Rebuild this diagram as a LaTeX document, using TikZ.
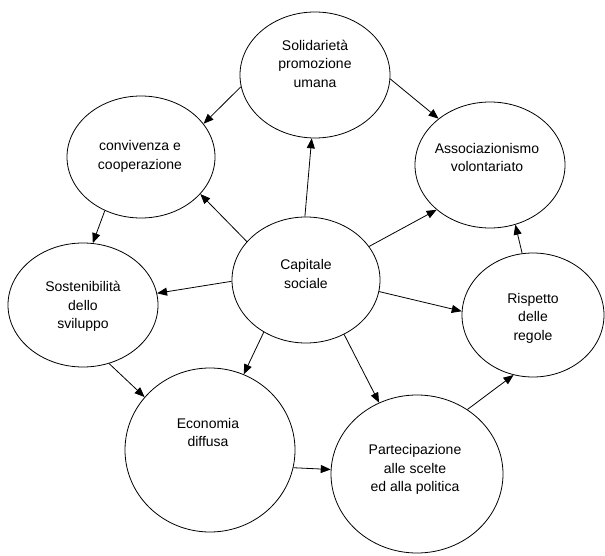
\documentclass[tikz,border=0pt]{standalone}
\usepackage{fontspec}
\setmainfont{Liberation Sans}
\usetikzlibrary{shapes.geometric,arrows.meta}
\begin{document}
\begin{tikzpicture}[x=1pt,y=-1pt,
  bub/.style={draw,ellipse,line width=0.8pt,inner sep=0pt},
  lbl/.style={align=center,font=\fontsize{14}{18.5}\selectfont,inner sep=0pt},
  arr/.style={-{Triangle[length=10pt,width=8pt]},line width=0.8pt}]
\useasboundingbox[fill=white] (0,0) rectangle (605,556);
% bubbles
\node[bub,minimum width=150pt,minimum height=126pt] (sol)   at (315,75)  {};
\node[bub,minimum width=148pt,minimum height=122pt] (conv)  at (141,157) {};
\node[bub,minimum width=150pt,minimum height=126pt] (assoc) at (490,165) {};
\node[bub,minimum width=148pt,minimum height=126pt] (cap)   at (306,280) {};
\node[bub,minimum width=150pt,minimum height=124pt] (sost)  at (83,305)  {};
\node[bub,minimum width=170pt,minimum height=164pt] (eco)   at (210,450) {};
\node[bub,minimum width=142pt,minimum height=124pt] (risp)  at (533,315) {};
\node[bub,minimum width=172pt,minimum height=158pt] (part)  at (417,474) {};
% labels
\node[lbl] (tsol)   at (315,63.5)  {Solidarietà\\promozione\\umana};
\node[lbl] (tconv)  at (140,156.5) {convivenza e\\cooperazione};
\node[lbl] (tassoc) at (487,157.5) {Associazionismo\\volontariato};
\node[lbl] (tcap)   at (306,274)   {Capitale\\sociale};
\node[lbl] (tsost)  at (83,306.5)  {Sostenibilità\\dello\\sviluppo};
\node[lbl] (teco)   at (208,432.5) {Economia\\diffusa};
\node[lbl] (trisp)  at (533,318)   {Rispetto\\delle\\regole};
\node[lbl] (tpart)  at (415,469.5) {Partecipazione\\alle scelte\\ed alla politica};
% connectors
\draw[arr] (sol.189.8) -- (conv.28.9);
\draw[arr] (sol.-3.8) -- (assoc.138.4);
\draw[arr] (cap.91) -- (sol.267.4);
\draw[arr] (cap.147.2) -- (conv.-32.8);
\draw[arr] (cap.28) -- (assoc.220.3);
\draw[arr] (risp.100) -- (assoc.293.5);
\draw[arr] (conv.236.8) -- (sost.81.3);
\draw[arr] (cap.181.5) -- (sost.9.1);
\draw[arr] (cap.231.3) -- (eco.66.3);
\draw[arr] (sost.-66.7) -- (eco.141);
\draw[arr] (eco.-12) -- (part.177.3);
\draw[arr] (cap.-9.2) -- (risp.177.6);
\draw[arr] (cap.-55.6) -- (part.118.4);
\draw[arr] (part.52.9) -- (risp.252.9);
\end{tikzpicture}
\end{document}
